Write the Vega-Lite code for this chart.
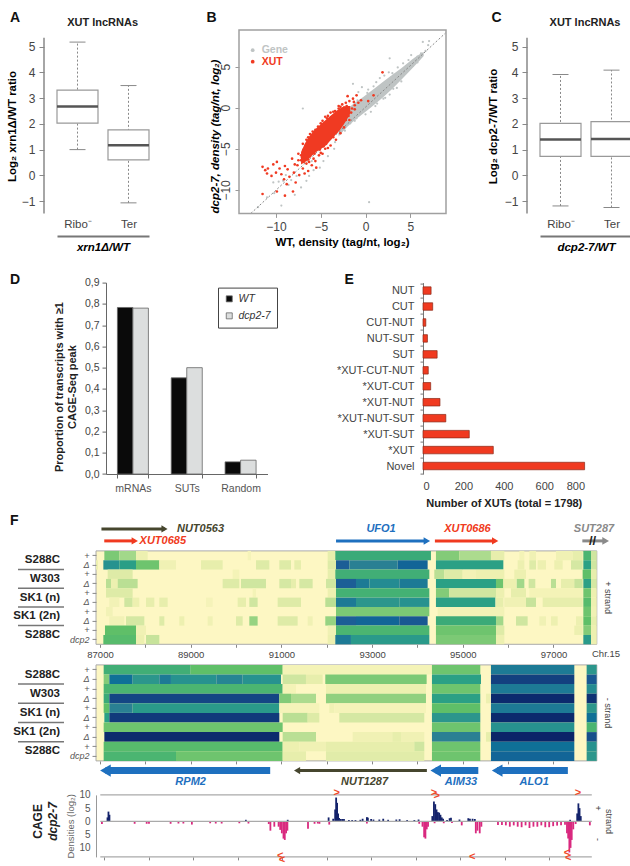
{
"$schema":"https://vega.github.io/schema/vega-lite/v6.json",
"padding":{"left":3,"top":10,"right":0,"bottom":0},
"config":{"font":"Liberation Sans","view":{"stroke":null},"axis":{"grid":false,"labelOverlap":false,"labelFont":"Liberation Sans","titleFont":"Liberation Sans"}},
"datasets":{
"boxA":[{"c":"Ribo⁻","lo":1.0,"q1":2.03,"med":2.68,"q3":3.31,"hi":5.18},{"c":"Ter","lo":-1.07,"q1":0.6,"med":1.17,"q3":1.77,"hi":3.49}],
"boxC":[{"c":"Ribo⁻","lo":-1.19,"q1":0.74,"med":1.39,"q3":2.02,"hi":3.92},{"c":"Ter","lo":-1.25,"q1":0.74,"med":1.41,"q3":2.09,"hi":4.09}],
"grayPts":[{"x":-10.3,"y":-9.1},{"x":-9.7,"y":-9},{"x":-9.4,"y":-11.9},{"x":-9.2,"y":-8.9},{"x":-8.6,"y":-9.4},{"x":-8.3,"y":-8.8},{"x":-7.7,"y":-8.3},{"x":-7.9,"y":-10.6},{"x":-7.2,"y":-9.7},{"x":-6.6,"y":-8.9},{"x":-6.3,"y":-8.3},{"x":-5.8,"y":-7.6},{"x":-5.1,"y":-7.3},{"x":-4.7,"y":-6.5},{"x":-4.2,"y":-5.9},{"x":-3.5,"y":-5},{"x":-7,"y":-0.1},{"x":-3.4,"y":-4.2},{"x":-2.9,"y":-3.2},{"x":-2.3,"y":-2.8},{"x":-1.7,"y":-1.9},{"x":-1.2,"y":-1.6},{"x":-0.7,"y":-0.9},{"x":0,"y":-0.8},{"x":0.6,"y":-0.5},{"x":1.3,"y":0.5},{"x":2,"y":1.1},{"x":2.7,"y":1.6},{"x":3.5,"y":2.4},{"x":4,"y":3.2},{"x":0.4,"y":-11.5},{"x":-1.4,"y":2.9},{"x":-0.8,"y":1.9},{"x":-0.4,"y":2.5},{"x":0.3,"y":2.2},{"x":0.9,"y":2.6},{"x":1.6,"y":3.6},{"x":2.1,"y":3.9},{"x":2.6,"y":4.3},{"x":3,"y":4.2},{"x":3.6,"y":4.9},{"x":4.2,"y":5.4},{"x":4.8,"y":5.8},{"x":5.1,"y":6.4},{"x":2.7,"y":6},{"x":6.2,"y":6.6},{"x":6.7,"y":6.9},{"x":7,"y":7.6},{"x":6.4,"y":8},{"x":7.1,"y":8.1},{"x":5.8,"y":6.2},{"x":4.5,"y":4.6},{"x":5.3,"y":5.1},{"x":5.8,"y":5.5},{"x":3.1,"y":3.1},{"x":2.6,"y":2.5},{"x":-10.2,"y":-10.4},{"x":-11,"y":-10.9},{"x":-12,"y":-12.1},{"x":-8.9,"y":-8.2},{"x":-6,"y":-6.5},{"x":1.2,"y":3.1},{"x":0.2,"y":1.8},{"x":-0.9,"y":0.9},{"x":2.9,"y":3.7},{"x":3.8,"y":4.4},{"x":4.8,"y":5.2},{"x":1.1,"y":0.2},{"x":2.2,"y":1.2},{"x":3.1,"y":2.3},{"x":-1,"y":-1.3}],
"grayBand":[{"x":-3,"lo":-3.5,"hi":-1.6},{"x":-2,"lo":-2.3,"hi":-0.2},{"x":0,"lo":-0.5,"hi":1.5},{"x":2,"lo":1.3,"hi":3.2},{"x":4,"lo":3.4,"hi":4.8},{"x":5.5,"lo":5.1,"hi":6.1},{"x":6.5,"lo":6.3,"hi":6.8}],
"redCore":[{"x":-7.2,"lo":-6.9,"hi":-5.4},{"x":-6.58,"lo":-6.5,"hi":-4},{"x":-5.84,"lo":-5.7,"hi":-2.9},{"x":-5.09,"lo":-5.1,"hi":-2.1},{"x":-4.35,"lo":-4.5,"hi":-1.4},{"x":-3.6,"lo":-3.6,"hi":-0.7},{"x":-2.86,"lo":-2.7,"hi":-0.1},{"x":-2.11,"lo":-1.5,"hi":0.2},{"x":-1.7,"lo":-0.7,"hi":0.2}],
"redPts":[{"x":-11.5,"y":-7.2},{"x":-11.2,"y":-7.6},{"x":-10.9,"y":-7.4},{"x":-11,"y":-8},{"x":-10.5,"y":-8.3},{"x":-10.3,"y":-6.9},{"x":-9.9,"y":-6.6},{"x":-9.6,"y":-7.4},{"x":-10,"y":-7.9},{"x":-9.4,"y":-8.1},{"x":-9,"y":-7.1},{"x":-8.7,"y":-7.5},{"x":-9.1,"y":-8.7},{"x":-8.5,"y":-8.4},{"x":-8.8,"y":-9.3},{"x":-8,"y":-7.9},{"x":-7.6,"y":-7},{"x":-7.4,"y":-8.2},{"x":-7.2,"y":-6.4},{"x":-7,"y":-7.4},{"x":-6.8,"y":-8},{"x":-8.2,"y":-6.2},{"x":-6.6,"y":-6.8},{"x":-6.4,"y":-7.7},{"x":-11.5,"y":-10.5},{"x":-9.9,"y":-10.2},{"x":-9,"y":-10.7},{"x":-8.1,"y":-10.2},{"x":-7.8,"y":-9.1},{"x":-6.9,"y":-6.6},{"x":-6.3,"y":-6.6},{"x":-7.5,"y":-5.6},{"x":-6.9,"y":-5.1},{"x":-7,"y":-4.4},{"x":-6.2,"y":-3.2},{"x":-6.6,"y":-3.9},{"x":-6,"y":-7},{"x":-5.6,"y":-6.5},{"x":-5.5,"y":-7.3},{"x":-5.2,"y":-5.8},{"x":-4.8,"y":-5.6},{"x":-4.5,"y":-5},{"x":-5.9,"y":-2.9},{"x":-5.3,"y":-2.3},{"x":-4.8,"y":-1.6},{"x":-4.2,"y":-1},{"x":-3.9,"y":-0.6},{"x":-3.4,"y":-0.4},{"x":-3,"y":0.2},{"x":-2.6,"y":0.4},{"x":-2.2,"y":0.6},{"x":-1.8,"y":0.8},{"x":-1.4,"y":1.1},{"x":-2,"y":1.4},{"x":-1,"y":1.5},{"x":-0.8,"y":0.6},{"x":-1.2,"y":-0.2},{"x":-1.6,"y":-0.6},{"x":-1.9,"y":-1},{"x":-2.2,"y":-1.5},{"x":-2.6,"y":-1.9},{"x":-3,"y":-2.6},{"x":-3.3,"y":-3},{"x":-3.6,"y":-3.6},{"x":-4,"y":-3.8},{"x":-4.4,"y":-4.4},{"x":-4.7,"y":-4.7},{"x":-5.1,"y":-5.1},{"x":-5.7,"y":-5.6},{"x":-6.2,"y":-5.9},{"x":-6.9,"y":-5.9},{"x":-6.7,"y":-6.3},{"x":-1.5,"y":-0.1},{"x":-0.5,"y":0.9},{"x":0.3,"y":0.8},{"x":0.9,"y":1.5},{"x":1.9,"y":4.3},{"x":-1.2,"y":0.3},{"x":-1.9,"y":-0.3},{"x":-2.4,"y":0},{"x":-3,"y":-0.1},{"x":-3.6,"y":-0.5},{"x":-4.3,"y":-1.3},{"x":-4.9,"y":-2.2},{"x":-5.5,"y":-3.1},{"x":-6.1,"y":-4},{"x":-6.9,"y":-5.2},{"x":-7.2,"y":-5.8},{"x":-5,"y":-1.9},{"x":-5.6,"y":-2.7},{"x":-4.5,"y":-1.1},{"x":-6.4,"y":-3.6},{"x":-6.7,"y":-4.6},{"x":-3.9,"y":-4.6},{"x":-4.2,"y":-4.9},{"x":-3.3,"y":-3.9},{"x":-2.8,"y":-3.1},{"x":-2.4,"y":-2.4},{"x":-1.8,"y":-1.5},{"x":-5.8,"y":-6.2},{"x":-5,"y":-5.5},{"x":-6.4,"y":-6.3},{"x":-7.5,"y":-6.4},{"x":-7.9,"y":-6.9},{"x":-7.1,"y":-6.1},{"x":-2.1,"y":0.2},{"x":-2.8,"y":0.1},{"x":-1.3,"y":0.7}],
"h1":[
{"t":"a+","a":87096,"b":87426,"v":0.36},{"t":"a+","a":87426,"b":87794,"v":0.3},{"t":"a+","a":87794,"b":88051,"v":0.1},{"t":"a+","a":90256,"b":90330,"v":0.05},{"t":"a+","a":92020,"b":92189,"v":0.12},{"t":"a+","a":92189,"b":94298,"v":0.5},{"t":"a+","a":94408,"b":94923,"v":0.35},{"t":"a+","a":94923,"b":95621,"v":0.28},{"t":"a+","a":95621,"b":95916,"v":0.12},{"t":"a+","a":96247,"b":96357,"v":0.06},{"t":"a+","a":96467,"b":96614,"v":0.08},{"t":"a+","a":97055,"b":97423,"v":0.08},{"t":"a+","a":97423,"b":97643,"v":0.12},{"t":"a+","a":97658,"b":97827,"v":0.45},{"t":"a+","a":97827,"b":97952,"v":0.2},
{"t":"aΔ","a":86912,"b":86956,"v":0.1},{"t":"aΔ","a":87074,"b":87426,"v":0.62},{"t":"aΔ","a":87426,"b":87794,"v":0.56},{"t":"aΔ","a":87794,"b":88308,"v":0.38},{"t":"aΔ","a":88308,"b":88676,"v":0.08},{"t":"aΔ","a":89227,"b":89705,"v":0.12},{"t":"aΔ","a":90440,"b":90734,"v":0.15},{"t":"aΔ","a":90954,"b":91212,"v":0.15},{"t":"aΔ","a":91285,"b":91432,"v":0.12},{"t":"aΔ","a":92020,"b":92204,"v":0.15},{"t":"aΔ","a":92204,"b":92498,"v":0.8},{"t":"aΔ","a":92498,"b":93563,"v":0.7},{"t":"aΔ","a":93563,"b":94225,"v":0.78},{"t":"aΔ","a":94408,"b":95894,"v":0.55},{"t":"aΔ","a":96210,"b":96357,"v":0.1},{"t":"aΔ","a":96467,"b":96614,"v":0.15},{"t":"aΔ","a":96651,"b":96835,"v":0.1},{"t":"aΔ","a":97018,"b":97202,"v":0.1},{"t":"aΔ","a":97386,"b":97643,"v":0.18},{"t":"aΔ","a":97658,"b":97827,"v":0.55},{"t":"aΔ","a":97827,"b":97952,"v":0.2},
{"t":"b+","a":87169,"b":87720,"v":0.15},{"t":"b+","a":89925,"b":90072,"v":0.06},{"t":"b+","a":92020,"b":92189,"v":0.12},{"t":"b+","a":92189,"b":94262,"v":0.48},{"t":"b+","a":94372,"b":94592,"v":0.25},{"t":"b+","a":94592,"b":94997,"v":0.15},{"t":"b+","a":94997,"b":95291,"v":0.07},{"t":"b+","a":95291,"b":95916,"v":0.1},{"t":"b+","a":96136,"b":96394,"v":0.1},{"t":"b+","a":97643,"b":97827,"v":0.4},{"t":"b+","a":97827,"b":97952,"v":0.12},
{"t":"bΔ","a":87132,"b":87243,"v":0.25},{"t":"bΔ","a":87243,"b":87390,"v":0.1},{"t":"bΔ","a":87390,"b":87830,"v":0.25},{"t":"bΔ","a":89705,"b":90072,"v":0.15},{"t":"bΔ","a":90109,"b":90660,"v":0.2},{"t":"bΔ","a":90954,"b":91212,"v":0.18},{"t":"bΔ","a":91212,"b":91322,"v":0.12},{"t":"bΔ","a":91395,"b":91689,"v":0.18},{"t":"bΔ","a":91983,"b":92204,"v":0.2},{"t":"bΔ","a":92204,"b":92645,"v":0.8},{"t":"bΔ","a":92645,"b":92939,"v":0.72},{"t":"bΔ","a":92939,"b":93600,"v":0.65},{"t":"bΔ","a":93600,"b":94225,"v":0.72},{"t":"bΔ","a":94408,"b":95732,"v":0.55},{"t":"bΔ","a":95732,"b":95894,"v":0.38},{"t":"bΔ","a":95894,"b":96173,"v":0.1},{"t":"bΔ","a":96188,"b":96357,"v":0.3},{"t":"bΔ","a":96452,"b":96599,"v":0.2},{"t":"bΔ","a":96945,"b":97055,"v":0.25},{"t":"bΔ","a":97165,"b":97459,"v":0.12},{"t":"bΔ","a":97459,"b":97643,"v":0.22},{"t":"bΔ","a":97658,"b":97827,"v":0.55},{"t":"bΔ","a":97827,"b":97952,"v":0.18},
{"t":"c+","a":87132,"b":87720,"v":0.15},{"t":"c+","a":90366,"b":90440,"v":0.06},{"t":"c+","a":92020,"b":92204,"v":0.1},{"t":"c+","a":92204,"b":94262,"v":0.47},{"t":"c+","a":94408,"b":94703,"v":0.35},{"t":"c+","a":94703,"b":95732,"v":0.2},{"t":"c+","a":95732,"b":95916,"v":0.1},{"t":"c+","a":96063,"b":96394,"v":0.12},{"t":"c+","a":96467,"b":97643,"v":0.06},{"t":"c+","a":97658,"b":97827,"v":0.38},{"t":"c+","a":97827,"b":97952,"v":0.1},
{"t":"cΔ","a":87206,"b":87426,"v":0.07},{"t":"cΔ","a":87537,"b":87720,"v":0.2},{"t":"cΔ","a":87720,"b":87867,"v":0.1},{"t":"cΔ","a":88014,"b":88198,"v":0.12},{"t":"cΔ","a":88308,"b":88492,"v":0.12},{"t":"cΔ","a":89337,"b":89484,"v":0.05},{"t":"cΔ","a":90036,"b":90219,"v":0.12},{"t":"cΔ","a":90293,"b":90476,"v":0.2},{"t":"cΔ","a":90918,"b":91432,"v":0.15},{"t":"cΔ","a":91968,"b":92204,"v":0.25},{"t":"cΔ","a":92204,"b":92645,"v":0.72},{"t":"cΔ","a":92645,"b":93600,"v":0.6},{"t":"cΔ","a":93600,"b":94262,"v":0.62},{"t":"cΔ","a":94408,"b":95717,"v":0.55},{"t":"cΔ","a":95732,"b":95894,"v":0.12},{"t":"cΔ","a":95916,"b":96394,"v":0.08},{"t":"cΔ","a":96394,"b":96614,"v":0.22},{"t":"cΔ","a":96761,"b":97643,"v":0.12},{"t":"cΔ","a":97658,"b":97827,"v":0.42},{"t":"cΔ","a":97827,"b":97952,"v":0.1},
{"t":"d+","a":87132,"b":87279,"v":0.07},{"t":"d+","a":92204,"b":94262,"v":0.36},{"t":"d+","a":94445,"b":95916,"v":0.07},{"t":"d+","a":97658,"b":97827,"v":0.38},{"t":"d+","a":97827,"b":97952,"v":0.08},
{"t":"dΔ","a":87206,"b":87537,"v":0.07},{"t":"dΔ","a":87573,"b":87978,"v":0.18},{"t":"dΔ","a":88308,"b":88419,"v":0.15},{"t":"dΔ","a":88749,"b":88860,"v":0.1},{"t":"dΔ","a":89374,"b":89484,"v":0.08},{"t":"dΔ","a":89999,"b":90146,"v":0.15},{"t":"dΔ","a":90293,"b":90476,"v":0.32},{"t":"dΔ","a":90918,"b":91358,"v":0.15},{"t":"dΔ","a":91579,"b":91689,"v":0.08},{"t":"dΔ","a":91968,"b":92204,"v":0.32},{"t":"dΔ","a":92204,"b":92645,"v":0.8},{"t":"dΔ","a":92645,"b":93600,"v":0.78},{"t":"dΔ","a":93600,"b":94225,"v":0.82},{"t":"dΔ","a":94408,"b":95732,"v":0.5},{"t":"dΔ","a":95732,"b":95894,"v":0.3},{"t":"dΔ","a":96173,"b":96430,"v":0.2},{"t":"dΔ","a":96688,"b":96835,"v":0.08},{"t":"dΔ","a":96945,"b":97092,"v":0.1},{"t":"dΔ","a":97496,"b":97643,"v":0.1},{"t":"dΔ","a":97658,"b":97827,"v":0.4},{"t":"dΔ","a":97827,"b":97952,"v":0.12},
{"t":"e+","a":87110,"b":87794,"v":0.4},{"t":"e+","a":87794,"b":88014,"v":0.08},{"t":"e+","a":92020,"b":92204,"v":0.08},{"t":"e+","a":92204,"b":94262,"v":0.45},{"t":"e+","a":94408,"b":95732,"v":0.38},{"t":"e+","a":95732,"b":95916,"v":0.15},{"t":"e+","a":97459,"b":97643,"v":0.1},{"t":"e+","a":97658,"b":97827,"v":0.35},{"t":"e+","a":97827,"b":97952,"v":0.1},
{"t":"edcp2","a":87074,"b":87794,"v":0.42},{"t":"edcp2","a":87794,"b":87978,"v":0.1},{"t":"edcp2","a":88014,"b":88308,"v":0.22},{"t":"edcp2","a":92020,"b":92189,"v":0.1},{"t":"edcp2","a":92189,"b":92534,"v":0.72},{"t":"edcp2","a":92534,"b":94262,"v":0.58},{"t":"edcp2","a":94408,"b":95732,"v":0.36},{"t":"edcp2","a":95732,"b":95916,"v":0.1},{"t":"edcp2","a":97658,"b":97827,"v":0.58},{"t":"edcp2","a":97827,"b":97952,"v":0.1}],
"h2":[
{"t":"a+","a":87081,"b":89000,"v":0.48},{"t":"a+","a":89000,"b":91028,"v":0.4},{"t":"a+","a":91028,"b":94320,"v":0.06},{"t":"a+","a":94320,"b":95386,"v":0.38},{"t":"a+","a":95621,"b":97459,"v":0.72},{"t":"a+","a":97731,"b":97952,"v":0.6},
{"t":"aΔ","a":87081,"b":87206,"v":0.35},{"t":"aΔ","a":87206,"b":87720,"v":0.75},{"t":"aΔ","a":87720,"b":88308,"v":0.6},{"t":"aΔ","a":88308,"b":88565,"v":0.72},{"t":"aΔ","a":88565,"b":89565,"v":0.62},{"t":"aΔ","a":89565,"b":90146,"v":0.68},{"t":"aΔ","a":90146,"b":90991,"v":0.62},{"t":"aΔ","a":91028,"b":91542,"v":0.2},{"t":"aΔ","a":91542,"b":91910,"v":0.12},{"t":"aΔ","a":91968,"b":94203,"v":0.36},{"t":"aΔ","a":94320,"b":95401,"v":0.55},{"t":"aΔ","a":95621,"b":97459,"v":0.9},{"t":"aΔ","a":97731,"b":97952,"v":0.82},
{"t":"b+","a":87081,"b":91028,"v":0.45},{"t":"b+","a":91028,"b":91322,"v":0.06},{"t":"b+","a":91983,"b":94188,"v":0.1},{"t":"b+","a":94320,"b":95386,"v":0.38},{"t":"b+","a":95621,"b":97459,"v":0.72},{"t":"b+","a":97731,"b":97952,"v":0.65},
{"t":"bΔ","a":87081,"b":87206,"v":0.5},{"t":"bΔ","a":87206,"b":90954,"v":0.88},{"t":"bΔ","a":90954,"b":91212,"v":0.35},{"t":"bΔ","a":91212,"b":91763,"v":0.28},{"t":"bΔ","a":91983,"b":94188,"v":0.33},{"t":"bΔ","a":94320,"b":95386,"v":0.55},{"t":"bΔ","a":95511,"b":95599,"v":0.1},{"t":"bΔ","a":95621,"b":97459,"v":0.98},{"t":"bΔ","a":97731,"b":97952,"v":0.95},
{"t":"c+","a":87081,"b":87206,"v":0.4},{"t":"c+","a":87206,"b":87720,"v":0.7},{"t":"c+","a":87720,"b":90954,"v":0.58},{"t":"c+","a":90954,"b":91836,"v":0.05},{"t":"c+","a":92056,"b":92167,"v":0.08},{"t":"c+","a":92167,"b":94188,"v":0.05},{"t":"c+","a":94320,"b":95386,"v":0.4},{"t":"c+","a":95621,"b":97459,"v":0.72},{"t":"c+","a":97731,"b":97952,"v":0.6},
{"t":"cΔ","a":87096,"b":87206,"v":0.55},{"t":"cΔ","a":87206,"b":90954,"v":0.92},{"t":"cΔ","a":91028,"b":91579,"v":0.25},{"t":"cΔ","a":91579,"b":91836,"v":0.15},{"t":"cΔ","a":92277,"b":94151,"v":0.18},{"t":"cΔ","a":94320,"b":95386,"v":0.6},{"t":"cΔ","a":95621,"b":97459,"v":0.98},{"t":"cΔ","a":97731,"b":97952,"v":0.75},
{"t":"d+","a":87081,"b":91028,"v":0.38},{"t":"d+","a":94320,"b":95386,"v":0.38},{"t":"d+","a":95621,"b":97459,"v":0.62},{"t":"d+","a":97731,"b":97952,"v":0.45},
{"t":"dΔ","a":87096,"b":90954,"v":0.98},{"t":"dΔ","a":91028,"b":91763,"v":0.25},{"t":"dΔ","a":92571,"b":94151,"v":0.08},{"t":"dΔ","a":93453,"b":93637,"v":0.12},{"t":"dΔ","a":94320,"b":95386,"v":0.7},{"t":"dΔ","a":95511,"b":95621,"v":0.12},{"t":"dΔ","a":95621,"b":97459,"v":1},{"t":"dΔ","a":97731,"b":97952,"v":0.85},
{"t":"e+","a":87081,"b":91028,"v":0.42},{"t":"e+","a":91028,"b":91395,"v":0.1},{"t":"e+","a":91395,"b":91983,"v":0.08},{"t":"e+","a":91983,"b":93931,"v":0.12},{"t":"e+","a":93931,"b":94151,"v":0.2},{"t":"e+","a":94320,"b":95386,"v":0.38},{"t":"e+","a":95621,"b":97459,"v":0.75},{"t":"e+","a":97731,"b":97952,"v":0.62},
{"t":"edcp2","a":87081,"b":88676,"v":0.45},{"t":"edcp2","a":88676,"b":91028,"v":0.38},{"t":"edcp2","a":91028,"b":91542,"v":0.12},{"t":"edcp2","a":91983,"b":94151,"v":0.14},{"t":"edcp2","a":94320,"b":95386,"v":0.38},{"t":"edcp2","a":95621,"b":97459,"v":0.78},{"t":"edcp2","a":97731,"b":97952,"v":0.6}],
"strains":[{"t":"a+","s":"S288C"},{"t":"b+","s":"W303"},{"t":"c+","s":"SK1 (n)"},{"t":"d+","s":"SK1 (2n)"},{"t":"e+","s":"S288C"}],
"seps":[{"t":"aΔ"},{"t":"bΔ"},{"t":"cΔ"},{"t":"dΔ"}],
"genesTop":[{"n":"NUT0563","k":"NUT","s":87032,"e":88423,"lane":"1"},{"n":"XUT0685","k":"XUT","s":87094,"e":87767,"lane":"2"},{"n":"UFO1","k":"gene","s":92205,"e":94208,"lane":"2"},{"n":"XUT0686","k":"XUT","s":94385,"e":95714,"lane":"2"},{"n":"SUT287","k":"SUT","s":97636,"e":98150,"lane":"2"}],
"labelsTop":[{"n":"NUT0563","k":"NUT","p":88697,"lane":"1","al":"s"},{"n":"XUT0685","k":"XUT","p":87873,"lane":"2","al":"s"},{"n":"UFO1","k":"gene","p":93198,"lane":"1","al":"c"},{"n":"XUT0686","k":"XUT","p":95102,"lane":"1","al":"c"},{"n":"SUT287","k":"SUT","p":97893,"lane":"1","al":"c"}],
"genesBot":[{"n":"RPM2","k":"gene","s":87120,"e":90753},{"n":"NUT1287","k":"NUT","s":91346,"e":94208},{"n":"AIM33","k":"gene","s":94403,"e":95342},{"n":"ALO1","k":"gene","s":95758,"e":97317}],
"labelsBot":[{"n":"RPM2","k":"gene","p":88999},{"n":"NUT1287","k":"NUT","p":92834},{"n":"AIM33","k":"gene","p":94961},{"n":"ALO1","k":"gene","p":96573}],
"cage":[{"x":87074,"v":1.5},{"x":87096,"v":3.7},{"x":87118,"v":2.5},{"x":90183,"v":0.6},{"x":91123,"v":0.6},{"x":92042,"v":1.5},{"x":92145,"v":1},{"x":92189,"v":4.5},{"x":92211,"v":9},{"x":92233,"v":7},{"x":92255,"v":3},{"x":92277,"v":1.3},{"x":92314,"v":0.9},{"x":92350,"v":0.9},{"x":92387,"v":0.9},{"x":92498,"v":0.5},{"x":92571,"v":0.5},{"x":92645,"v":0.5},{"x":92755,"v":0.6},{"x":92806,"v":1},{"x":92902,"v":1.6},{"x":92924,"v":1.4},{"x":92997,"v":0.9},{"x":93049,"v":0.7},{"x":93181,"v":0.7},{"x":93269,"v":1},{"x":93379,"v":0.6},{"x":93563,"v":0.7},{"x":93637,"v":0.8},{"x":93806,"v":0.5},{"x":93968,"v":0.5},{"x":94063,"v":0.7},{"x":94372,"v":2},{"x":94408,"v":7.5},{"x":94438,"v":6.5},{"x":94467,"v":4.5},{"x":94497,"v":3.5},{"x":94526,"v":3.3},{"x":94555,"v":2.5},{"x":94585,"v":1.5},{"x":94614,"v":1},{"x":94703,"v":0.5},{"x":94761,"v":1.2},{"x":94791,"v":1.4},{"x":94982,"v":0.7},{"x":95180,"v":1.2},{"x":95217,"v":1},{"x":95276,"v":1},{"x":95327,"v":0.9},{"x":97468,"v":0.6},{"x":97627,"v":3},{"x":97654,"v":6.8},{"x":97680,"v":5},{"x":97707,"v":2},{"x":86949,"v":-1},{"x":87684,"v":-0.9},{"x":87955,"v":-0.9},{"x":88006,"v":-0.9},{"x":88492,"v":-0.9},{"x":88668,"v":-0.8},{"x":88779,"v":-0.8},{"x":88970,"v":-1.2},{"x":89381,"v":-0.7},{"x":89506,"v":-0.8},{"x":89639,"v":-0.8},{"x":90036,"v":-0.7},{"x":90241,"v":-0.8},{"x":90697,"v":-1},{"x":90734,"v":-3.5},{"x":90822,"v":-2},{"x":90918,"v":-2},{"x":90954,"v":-3.2},{"x":90991,"v":-4.5},{"x":91028,"v":-6.5},{"x":91057,"v":-7},{"x":91087,"v":-4.5},{"x":91116,"v":-3.5},{"x":91579,"v":-2.8},{"x":91726,"v":-0.9},{"x":91799,"v":-0.8},{"x":91836,"v":-0.9},{"x":92056,"v":-1.2},{"x":92902,"v":-0.8},{"x":94078,"v":-0.9},{"x":94151,"v":-2},{"x":94188,"v":-6},{"x":94217,"v":-6.5},{"x":94247,"v":-3},{"x":94276,"v":-2},{"x":94423,"v":-0.7},{"x":94629,"v":-0.7},{"x":94813,"v":-0.6},{"x":95033,"v":-1.5},{"x":95349,"v":-4.5},{"x":95386,"v":-3.5},{"x":95437,"v":-4.5},{"x":95474,"v":-2},{"x":95847,"v":-1.4},{"x":95936,"v":-1.4},{"x":96024,"v":-1.5},{"x":96113,"v":-2},{"x":96201,"v":-1.5},{"x":96290,"v":-2},{"x":96378,"v":-2.2},{"x":96467,"v":-1.5},{"x":96555,"v":-2.5},{"x":96644,"v":-2},{"x":96732,"v":-2},{"x":96821,"v":-1.5},{"x":96910,"v":-2.2},{"x":96998,"v":-2.2},{"x":97087,"v":-1.8},{"x":97176,"v":-1.6},{"x":97264,"v":-1.5},{"x":97353,"v":-1.3},{"x":97397,"v":-4.5},{"x":97424,"v":-6.5},{"x":97451,"v":-11.7},{"x":97478,"v":-10},{"x":97504,"v":-7},{"x":97539,"v":-3},{"x":97592,"v":-1},{"x":97911,"v":-1.5}],
"chevUp":[{"x":92223,"y":10.7},{"x":94411,"y":10.7},{"x":94473,"y":9.5},{"x":97645,"y":10.7}],
"chevDown":[{"x":90956,"y":-13.1},{"x":90992,"y":-14.6},{"x":95271,"y":-13.4},{"x":97397,"y":-11.8},{"x":97424,"y":-14}],
"bg":[{"a":86912,"b":97955}]
},
"resolve":{"scale":{"color":"independent","size":"independent","strokeWidth":"independent"}},
"vconcat":[
{"resolve":{"scale":{"color":"independent","size":"independent","strokeWidth":"independent"}},"hconcat":[
{"width":92,"height":183.4,"layer":[
{"data":{"name":"boxA"},"mark":{"type":"rule","color":"#888","strokeDash":[2,2]},"encoding":{"x":{"field":"c","type":"nominal","sort":null,"scale":{"type":"point","padding":0.402},"axis":{"orient":"bottom","offset":22.7,"title":"xrn1Δ/WT","titleFontSize":11.5,"titleFontWeight":"bold","titleFontStyle":"italic","titleBaseline":"middle","titleY":11.5,"labelAngle":0,"labelFontSize":11.5,"labelColor":"#444","labelPadding":-18,"tickSize":0,"ticks":false,"domainColor":"#777","domainWidth":2}},"y":{"field":"lo","type":"quantitative","scale":{"domain":[-1.48,5.65],"nice":false},"axis":{"offset":13,"domain":false,"values":[-1,0,1,2,3,4,5],"tickCount":7,"format":"d","title":"Log₂ xrn1Δ/WT ratio","titleFontSize":11.5,"titleFontWeight":"bold","titleX":-27,"titleY":96,"labelFontSize":12,"labelColor":"#444","tickColor":"#888","tickSize":5,"labelPadding":4}},"y2":{"field":"hi"}}},
{"data":{"name":"boxA"},"mark":{"type":"bar","size":41,"fill":"white","stroke":"#999","strokeWidth":1.2},"encoding":{"x":{"field":"c","type":"nominal","sort":null},"y":{"field":"q1","type":"quantitative"},"y2":{"field":"q3"}}},
{"data":{"name":"boxA"},"mark":{"type":"tick","size":41,"thickness":2.5,"color":"#555","opacity":1},"encoding":{"x":{"field":"c","type":"nominal","sort":null},"y":{"field":"med","type":"quantitative"}}},
{"data":{"name":"boxA"},"mark":{"type":"tick","size":16,"thickness":1,"color":"#888","opacity":1},"encoding":{"x":{"field":"c","type":"nominal","sort":null},"y":{"field":"hi","type":"quantitative"}}},
{"data":{"name":"boxA"},"mark":{"type":"tick","size":16,"thickness":1,"color":"#888","opacity":1},"encoding":{"x":{"field":"c","type":"nominal","sort":null},"y":{"field":"lo","type":"quantitative"}}},
{"data":{"values":[{}]},"mark":{"type":"rule","color":"#888","strokeWidth":1.5},"encoding":{"x":{"value":-13},"y":{"datum":5.35,"type":"quantitative"},"y2":{"datum":-1.48}}},
{"data":{"values":[{"t":"XUT lncRNAs"}]},"mark":{"type":"text","fontWeight":"bold","fontSize":11,"color":"#222"},"encoding":{"text":{"field":"t"},"x":{"value":45.6},"y":{"datum":5.93,"type":"quantitative"}}},
{"data":{"values":[{"t":"A"}]},"mark":{"type":"text","fontWeight":"bold","fontSize":14,"color":"#111","align":"left"},"encoding":{"text":{"field":"t"},"x":{"value":-47},"y":{"datum":6.13,"type":"quantitative"}}},
{"data":{"values":[{}]},"mark":{"type":"point","opacity":0,"size":1},"encoding":{"x":{"value":-53},"y":{"datum":0,"type":"quantitative"}}}
]},
{"width":89.4,"height":10,"data":{"values":[{}]},"mark":{"type":"point","opacity":0},"encoding":{}},
{"width":207,"height":183.4,
"layer":[
{"data":{"name":"grayPts"},"mark":{"type":"point","filled":true,"size":5,"color":"#BFC4C4","opacity":1},"encoding":{"x":{"field":"x","type":"quantitative","scale":{"domain":[-14.13,8.99],"nice":false},"axis":{"values":[-10,-5,0,5],"title":"WT, density (tag/nt, log₂)","titleFontSize":11.5,"titleFontWeight":"bold","titleX":103,"titleY":29,"titleBaseline":"middle","labelFontSize":12,"labelColor":"#444","domain":false,"tickColor":"#999","tickSize":4,"labelPadding":4}},"y":{"field":"y","type":"quantitative","scale":{"domain":[-12.86,9.45],"nice":false},"axis":{"values":[-10,-5,0,5],"title":"dcp2-7, density (tag/nt, log₂)","titleFontSize":11.5,"titleFontWeight":"bold","titleFontStyle":"italic","titleX":-19,"titleY":106,"labelFontSize":12,"labelColor":"#444","labelAngle":-90,"labelBaseline":"bottom","labelAlign":"center","domain":false,"tickColor":"#999","tickSize":4,"labelPadding":3}}}},
{"data":{"name":"grayBand"},"mark":{"type":"area","color":"#BFC4C4","interpolate":"monotone"},"encoding":{"x":{"field":"x","type":"quantitative"},"y":{"field":"lo","type":"quantitative"},"y2":{"field":"hi"}}},
{"data":{"values":[{"x":-12.8,"y":-12.86},{"x":8.95,"y":9.1}]},"mark":{"type":"line","color":"#888","strokeDash":[2,2],"strokeWidth":1},"encoding":{"x":{"field":"x","type":"quantitative"},"y":{"field":"y","type":"quantitative"}}},
{"data":{"name":"redPts"},"mark":{"type":"point","filled":true,"size":7,"color":"#F03A22","opacity":1},"encoding":{"x":{"field":"x","type":"quantitative"},"y":{"field":"y","type":"quantitative"}}},
{"data":{"name":"redCore"},"mark":{"type":"area","color":"#F03A22","interpolate":"monotone"},"encoding":{"x":{"field":"x","type":"quantitative"},"y":{"field":"lo","type":"quantitative"},"y2":{"field":"hi"}}},
{"data":{"values":[{"x":-12.6,"y":7,"k":"Gene"},{"x":-12.6,"y":5.6,"k":"XUT"}]},"mark":{"type":"point","filled":true,"size":14,"opacity":1},"encoding":{"x":{"field":"x","type":"quantitative"},"y":{"field":"y","type":"quantitative"},"color":{"field":"k","type":"nominal","scale":{"domain":["Gene","XUT"],"range":["#BFC4C4","#F03A22"]},"legend":null}}},
{"data":{"values":[{"x":-11.6,"y":7,"k":"Gene"},{"x":-11.6,"y":5.6,"k":"XUT"}]},"mark":{"type":"text","align":"left","fontWeight":"bold","fontSize":10.5},"encoding":{"text":{"field":"k"},"x":{"field":"x","type":"quantitative"},"y":{"field":"y","type":"quantitative"},"color":{"field":"k","type":"nominal","legend":null}}},
{"data":{"values":[{"x":-14.13,"x2":8.99,"y":-12.86,"y2":9.45}]},"mark":{"type":"rect","fill":null,"stroke":"#A0A0A0","strokeWidth":1.5},"encoding":{"x":{"field":"x","type":"quantitative"},"x2":{"field":"x2"},"y":{"field":"y","type":"quantitative"},"y2":{"field":"y2"}}},
{"data":{"values":[{"t":"B","x":-17.75,"y":10.95}]},"mark":{"type":"text","fontWeight":"bold","fontSize":14,"color":"#111","align":"left"},"encoding":{"text":{"field":"t"},"x":{"field":"x","type":"quantitative"},"y":{"field":"y","type":"quantitative"}}}
]},
{"width":94,"height":10,"data":{"values":[{}]},"mark":{"type":"point","opacity":0},"encoding":{}},
{"width":92,"height":183.4,"layer":[
{"data":{"name":"boxC"},"mark":{"type":"rule","color":"#888","strokeDash":[2,2]},"encoding":{"x":{"field":"c","type":"nominal","sort":null,"scale":{"type":"point","padding":0.402},"axis":{"orient":"bottom","offset":22.7,"title":"dcp2-7/WT","titleFontSize":11.5,"titleFontWeight":"bold","titleFontStyle":"italic","titleBaseline":"middle","titleY":11.5,"labelAngle":0,"labelFontSize":11.5,"labelColor":"#444","labelPadding":-18,"tickSize":0,"ticks":false,"domainColor":"#777","domainWidth":2}},"y":{"field":"lo","type":"quantitative","scale":{"domain":[-1.48,5.65],"nice":false},"axis":{"offset":13,"domain":false,"values":[-1,0,1,2,3,4,5],"tickCount":7,"format":"d","title":"Log₂ dcp2-7/WT ratio","titleFontSize":11.5,"titleFontWeight":"bold","titleX":-29,"titleY":96,"labelFontSize":12,"labelColor":"#444","tickColor":"#888","tickSize":5,"labelPadding":4}},"y2":{"field":"hi"}}},
{"data":{"name":"boxC"},"mark":{"type":"bar","size":41,"fill":"white","stroke":"#999","strokeWidth":1.2},"encoding":{"x":{"field":"c","type":"nominal","sort":null},"y":{"field":"q1","type":"quantitative"},"y2":{"field":"q3"}}},
{"data":{"name":"boxC"},"mark":{"type":"tick","size":41,"thickness":2.5,"color":"#555","opacity":1},"encoding":{"x":{"field":"c","type":"nominal","sort":null},"y":{"field":"med","type":"quantitative"}}},
{"data":{"name":"boxC"},"mark":{"type":"tick","size":16,"thickness":1,"color":"#888","opacity":1},"encoding":{"x":{"field":"c","type":"nominal","sort":null},"y":{"field":"hi","type":"quantitative"}}},
{"data":{"name":"boxC"},"mark":{"type":"tick","size":16,"thickness":1,"color":"#888","opacity":1},"encoding":{"x":{"field":"c","type":"nominal","sort":null},"y":{"field":"lo","type":"quantitative"}}},
{"data":{"values":[{}]},"mark":{"type":"rule","color":"#888","strokeWidth":1.5},"encoding":{"x":{"value":-13},"y":{"datum":5.35,"type":"quantitative"},"y2":{"datum":-1.48}}},
{"data":{"values":[{"t":"XUT lncRNAs"}]},"mark":{"type":"text","fontWeight":"bold","fontSize":11,"color":"#222"},"encoding":{"text":{"field":"t"},"x":{"value":45},"y":{"datum":5.93,"type":"quantitative"}}},
{"data":{"values":[{"t":"C"}]},"mark":{"type":"text","fontWeight":"bold","fontSize":14,"color":"#111","align":"left"},"encoding":{"text":{"field":"t"},"x":{"value":-48.4},"y":{"datum":6.13,"type":"quantitative"}}}
]}
],"spacing":0,"bounds":"flush"},
{"width":1,"height":9.4,"data":{"values":[{}]},"mark":{"type":"point","opacity":0},"encoding":{}},
{"resolve":{"scale":{"color":"independent","size":"independent","strokeWidth":"independent"}},"hconcat":[
{"width":49,"height":10,"data":{"values":[{}]},"mark":{"type":"point","opacity":0},"encoding":{}},
{"width":161.5,"height":191.4,"layer":[
{"data":{"values":[{"c":"mRNAs","s":"WT","v":0.783},{"c":"mRNAs","s":"dcp2-7","v":0.78},{"c":"SUTs","s":"WT","v":0.452},{"c":"SUTs","s":"dcp2-7","v":0.5},{"c":"Random","s":"WT","v":0.057},{"c":"Random","s":"dcp2-7","v":0.065}]},
"mark":{"type":"bar","stroke":"#666","strokeWidth":0.8},
"encoding":{
"x":{"field":"c","type":"nominal","sort":null,"title":null,"scale":{"paddingInner":0.424,"paddingOuter":0.212},"axis":{"labelAngle":0,"labelFontSize":10.5,"labelColor":"#555","tickBand":"extent","domainColor":"#666","tickColor":"#666","tickSize":4,"labelPadding":5}},
"xOffset":{"field":"s","type":"nominal","scale":{"domain":["WT","dcp2-7"],"paddingInner":0,"paddingOuter":0}},
"y":{"field":"v","type":"quantitative","scale":{"domain":[0,0.9],"nice":false},"axis":{"values":[0,0.1,0.2,0.3,0.4,0.5,0.6,0.7,0.8,0.9],"tickCount":10,"labelExpr":"replace(format(datum.value,'.1f'),'.',',')","title":["Proportion of transcripts with ≥1","CAGE-Seq peak"],"titleFontSize":11,"titleFontWeight":"bold","titleColor":"#222","titleX":-42,"titleY":104,"labelFontSize":10.5,"labelColor":"#444","domainColor":"#666","tickColor":"#666","tickSize":4,"labelPadding":3}},
"color":{"field":"s","type":"nominal","scale":{"domain":["WT","dcp2-7"],"range":["#0A0A0A","#DCDEDE"]},"legend":{"orient":"none","legendX":112,"legendY":5,"title":null,"strokeColor":"#444","padding":6,"rowPadding":6,"symbolType":"square","symbolSize":36,"symbolStrokeColor":"#666","symbolStrokeWidth":0.8,"labelFontSize":10.5,"labelColor":"#333","labelFontStyle":"italic"}}
}},
{"data":{"values":[{"t":"D"}]},"mark":{"type":"text","fontWeight":"bold","fontSize":14,"color":"#111","align":"left"},"encoding":{"text":{"field":"t"},"x":{"value":-96},"y":{"datum":0.914,"type":"quantitative"}}}
]},
{"width":154.1,"height":10,"data":{"values":[{}]},"mark":{"type":"point","opacity":0},"encoding":{}},
{"width":161.6,"height":191.4,"layer":[
{"data":{"values":[{"c":"NUT","v":40},{"c":"CUT","v":48},{"c":"CUT-NUT","v":14},{"c":"NUT-SUT","v":22},{"c":"SUT","v":70},{"c":"*XUT-CUT-NUT","v":26},{"c":"*XUT-CUT","v":38},{"c":"*XUT-NUT","v":84},{"c":"*XUT-NUT-SUT","v":113},{"c":"*XUT-SUT","v":229},{"c":"*XUT","v":348},{"c":"Novel","v":800}]},
"mark":{"type":"bar","size":7.5,"color":"#F03A20","stroke":"#8A2A18","strokeWidth":0.7},
"encoding":{
"y":{"field":"c","type":"nominal","sort":null,"title":null,"axis":{"labelFontSize":11,"labelColor":"#444","tickBand":"extent","domainColor":"#777","tickColor":"#777","tickSize":3,"labelPadding":6}},
"x":{"field":"v","type":"quantitative","scale":{"domain":[0,800],"nice":false},"axis":{"values":[0,200,400,600,800],"domain":false,"ticks":false,"labelFontSize":11,"labelColor":"#444","labelPadding":6,"title":"Number of XUTs (total = 1798)","titleFontSize":11,"titleFontWeight":"bold","titleColor":"#222","titleBaseline":"middle","titleY":29}}
}},
{"data":{"values":[{"t":"E","x":-389}]},"mark":{"type":"text","fontWeight":"bold","fontSize":14,"color":"#111","align":"left"},"encoding":{"text":{"field":"t"},"x":{"field":"x","type":"quantitative"},"y":{"value":-3}}}
]}
],"spacing":0,"bounds":"flush"},
{"resolve":{"scale":{"color":"independent","size":"independent","strokeWidth":"independent"}},"vconcat":[
{"width":539.8,"height":27.3,"layer":[
{"data":{"name":"genesTop"},"mark":{"type":"rule"},"encoding":{"x":{"field":"s","type":"quantitative","scale":{"domain":[86052,97955],"nice":false},"axis":null},"x2":{"field":"e"},"y":{"field":"lane","type":"nominal","scale":{"type":"point","padding":0,"domain":["1","2"],"range":[6,18]},"axis":null},"color":{"field":"k","type":"nominal","scale":{"domain":["NUT","XUT","gene","SUT"],"range":["#46462E","#F03A20","#1E70BF","#8A8A8A"]},"legend":null},"strokeWidth":{"field":"k","type":"nominal","scale":{"domain":["NUT","XUT","gene","SUT"],"range":[3,3,7,3]},"legend":null}}},
{"data":{"name":"genesTop"},"mark":{"type":"point","filled":true,"shape":"triangle-right","opacity":1},"encoding":{"x":{"field":"e","type":"quantitative","axis":null},"y":{"field":"lane","type":"nominal","axis":null},"color":{"field":"k","type":"nominal","legend":null},"size":{"field":"k","type":"nominal","scale":{"domain":["NUT","XUT","gene","SUT"],"range":[50,60,150,60]},"legend":null}}},
{"data":{"name":"labelsTop"},"transform":[{"filter":"datum.al=='s'"}],"mark":{"type":"text","align":"left","fontSize":11,"fontWeight":"bold","fontStyle":"italic"},"encoding":{"text":{"field":"n"},"x":{"field":"p","type":"quantitative","axis":null},"y":{"field":"lane","type":"nominal","axis":null},"color":{"field":"k","type":"nominal","legend":null}}},
{"data":{"name":"labelsTop"},"transform":[{"filter":"datum.al=='c'"}],"mark":{"type":"text","align":"center","fontSize":11,"fontWeight":"bold","fontStyle":"italic"},"encoding":{"text":{"field":"n"},"x":{"field":"p","type":"quantitative","axis":null},"y":{"field":"lane","type":"nominal","axis":null},"color":{"field":"k","type":"nominal","legend":null}}},
{"data":{"values":[{"p":97860,"lane":"2","t":"//"}]},"mark":{"type":"text","fontSize":13,"fontWeight":"bold","color":"#222"},"encoding":{"text":{"field":"t"},"x":{"field":"p","type":"quantitative","axis":null},"y":{"field":"lane","type":"nominal","axis":null}}},
{"data":{"values":[{"t":"F","p":85015}]},"mark":{"type":"text","fontWeight":"bold","fontSize":14,"color":"#111","align":"left"},"encoding":{"text":{"field":"t"},"x":{"field":"p","type":"quantitative","axis":null},"y":{"value":-2.3}}}
]},
{"width":539.8,"height":93.4,"layer":[
{"data":{"name":"bg"},"mark":{"type":"rect","fill":"#FDF7C3","stroke":"#AAA"},"encoding":{"x":{"field":"a","type":"quantitative","scale":{"domain":[86052,97955],"nice":false},"axis":{"values":[87000,88000,89000,90000,91000,92000,93000,94000,95000,96000,97000],"tickCount":12,"labelExpr":"datum.value%2000==1000?format(datum.value,'d'):''","title":null,"labelFontSize":9.5,"labelColor":"#444","domain":false,"tickColor":"#888","tickSize":3,"labelPadding":2}},"x2":{"field":"b"}}},
{"data":{"name":"h1"},"mark":{"type":"rect"},"encoding":{"x":{"field":"a","type":"quantitative"},"x2":{"field":"b"},"y":{"field":"t","type":"nominal","scale":{"domain":["a+","aΔ","b+","bΔ","c+","cΔ","d+","dΔ","e+","edcp2"],"paddingInner":0,"paddingOuter":0},"axis":{"offset":-39,"title":null,"labelExpr":"slice(datum.label,1)","labelFontSize":9,"labelFontStyle":"italic","labelColor":"#555","domain":false,"tickColor":"#888","tickSize":4,"labelPadding":3}},"color":{"field":"v","type":"quantitative","scale":{"domain":[0,0.1,0.2,0.3,0.4,0.5,0.6,0.7,0.8,0.9,1],"range":["#FDF7C3","#EDF0B0","#CFE6A0","#A2D88A","#5FBF68","#3BAA78","#2C968C","#2A8093","#1C5E96","#13407F","#0B2468"]},"legend":null}}},
{"data":{"name":"strains"},"mark":{"type":"text","align":"right","fontWeight":"bold","fontSize":11.5,"color":"#222"},"encoding":{"text":{"field":"s"},"x":{"datum":86118,"type":"quantitative"},"y":{"field":"t","type":"nominal","bandPosition":1}}},
{"data":{"name":"seps"},"mark":{"type":"rule","color":"#777","strokeWidth":1.5},"encoding":{"x":{"datum":85192,"type":"quantitative"},"x2":{"datum":86206},"y":{"field":"t","type":"nominal","bandPosition":1}}},
{"data":{"values":[{"t":"c+","k":"+ strand"}]},"mark":{"type":"text","angle":90,"fontSize":9,"color":"#444"},"encoding":{"text":{"field":"k"},"x":{"datum":98195,"type":"quantitative"},"y":{"field":"t","type":"nominal","bandPosition":1}}},
{"data":{"values":[{"t":"edcp2","k":"Chr.15"}]},"mark":{"type":"text","fontSize":9.5,"color":"#444","dy":14},"encoding":{"text":{"field":"k"},"x":{"datum":98158,"type":"quantitative"},"y":{"field":"t","type":"nominal"}}}
]},
{"width":539.8,"height":19.6,"data":{"values":[{}]},"mark":{"type":"point","opacity":0},"encoding":{}},
{"width":539.8,"height":96,"layer":[
{"data":{"name":"bg"},"mark":{"type":"rect","fill":"#FDF7C3","stroke":"#AAA"},"encoding":{"x":{"field":"a","type":"quantitative","scale":{"domain":[86052,97955],"nice":false},"axis":{"values":[87000,88000,89000,90000,91000,92000,93000,94000,95000,96000,97000],"tickCount":12,"labels":false,"title":null,"domain":false,"tickColor":"#888","tickSize":3}},"x2":{"field":"b"}}},
{"data":{"name":"h2"},"mark":{"type":"rect"},"encoding":{"x":{"field":"a","type":"quantitative"},"x2":{"field":"b"},"y":{"field":"t","type":"nominal","scale":{"domain":["a+","aΔ","b+","bΔ","c+","cΔ","d+","dΔ","e+","edcp2"],"paddingInner":0,"paddingOuter":0},"axis":{"offset":-39,"title":null,"labelExpr":"slice(datum.label,1)","labelFontSize":9,"labelFontStyle":"italic","labelColor":"#555","domain":false,"tickColor":"#888","tickSize":4,"labelPadding":3}},"color":{"field":"v","type":"quantitative","scale":{"domain":[0,0.1,0.2,0.3,0.4,0.5,0.6,0.7,0.8,0.9,1],"range":["#FDF7C3","#EDF0B0","#CFE6A0","#A2D88A","#5FBF68","#3BAA78","#2C968C","#2A8093","#1C5E96","#13407F","#0B2468"]},"legend":null}}},
{"data":{"name":"strains"},"mark":{"type":"text","align":"right","fontWeight":"bold","fontSize":11.5,"color":"#222"},"encoding":{"text":{"field":"s"},"x":{"datum":86118,"type":"quantitative"},"y":{"field":"t","type":"nominal","bandPosition":1}}},
{"data":{"name":"seps"},"mark":{"type":"rule","color":"#777","strokeWidth":1.5},"encoding":{"x":{"datum":85192,"type":"quantitative"},"x2":{"datum":86206},"y":{"field":"t","type":"nominal","bandPosition":1}}},
{"data":{"values":[{"t":"c+","k":"- strand"}]},"mark":{"type":"text","angle":90,"fontSize":9,"color":"#444"},"encoding":{"text":{"field":"k"},"x":{"datum":98195,"type":"quantitative"},"y":{"field":"t","type":"nominal","bandPosition":1}}}
]},
{"width":539.8,"height":33.4,"layer":[
{"data":{"name":"genesBot"},"mark":{"type":"rule"},"encoding":{"x":{"field":"s","type":"quantitative","scale":{"domain":[86052,97955],"nice":false},"axis":null},"x2":{"field":"e"},"y":{"datum":"arrow","type":"nominal","scale":{"type":"point","padding":0,"domain":["arrow","label"],"range":[9.7,20.7]},"axis":null},"color":{"field":"k","type":"nominal","scale":{"domain":["NUT","gene"],"range":["#46462E","#1E70BF"]},"legend":null},"strokeWidth":{"field":"k","type":"nominal","scale":{"domain":["NUT","gene"],"range":[3,7]},"legend":null}}},
{"data":{"name":"genesBot"},"mark":{"type":"point","filled":true,"shape":"triangle-left","opacity":1},"encoding":{"x":{"field":"s","type":"quantitative","axis":null},"y":{"datum":"arrow","type":"nominal","axis":null},"color":{"field":"k","type":"nominal","legend":null},"size":{"field":"k","type":"nominal","scale":{"domain":["NUT","gene"],"range":[50,150]},"legend":null}}},
{"data":{"name":"labelsBot"},"mark":{"type":"text","fontSize":11,"fontWeight":"bold","fontStyle":"italic"},"encoding":{"text":{"field":"n"},"x":{"field":"p","type":"quantitative","axis":null},"y":{"datum":"label","type":"nominal","axis":null},"color":{"field":"k","type":"nominal","legend":null}}}
]},
{"width":539.8,"height":62,"layer":[
{"data":{"name":"cage"},"mark":{"type":"bar","size":1.8},"encoding":{"x":{"field":"x","type":"quantitative","scale":{"domain":[86052,97955],"nice":false},"axis":{"values":[87000,88000,89000,90000,91000,92000,93000,94000,95000,96000,97000],"tickCount":12,"labels":false,"title":null,"domain":false,"tickColor":"#888","tickSize":3}},"y":{"field":"v","type":"quantitative","scale":{"domain":[-13.4,10],"nice":false},"axis":{"offset":-39,"values":[-10,-5,0,5,10],"tickCount":5,"labelExpr":"format(abs(datum.value),'d')","title":"Densities (log₂)","titleFontSize":9.5,"titleFontWeight":"normal","titleColor":"#666","titleX":-21,"titleY":31,"labelFontSize":10,"labelColor":"#555","domainColor":"#999","tickSize":0,"labelPadding":6}},"color":{"condition":{"test":"datum.v>0","value":"#14236B"},"value":"#D9297F"}}},
{"data":{"values":[{"y":0},{"y":10},{"y":-13.4}]},"mark":{"type":"rule","color":"#AAA","strokeWidth":1.2},"encoding":{"x":{"datum":86912,"type":"quantitative"},"x2":{"datum":97955},"y":{"field":"y","type":"quantitative"}}},
{"data":{"name":"chevUp"},"mark":{"type":"text","text":">","fontSize":11,"fontWeight":"bold","color":"#F04A2A"},"encoding":{"x":{"field":"x","type":"quantitative"},"y":{"field":"y","type":"quantitative"}}},
{"data":{"name":"chevDown"},"mark":{"type":"text","text":"<","fontSize":11,"fontWeight":"bold","color":"#F04A2A"},"encoding":{"x":{"field":"x","type":"quantitative"},"y":{"field":"y","type":"quantitative"}}},
{"data":{"values":[{"x":85523,"y":0,"k":"CAGE"}]},"mark":{"type":"text","angle":-90,"fontSize":12,"fontWeight":"bold","color":"#222"},"encoding":{"text":{"field":"k"},"x":{"field":"x","type":"quantitative"},"y":{"field":"y","type":"quantitative"}}},
{"data":{"values":[{"x":85853,"y":0,"k":"dcp2-7"}]},"mark":{"type":"text","angle":-90,"fontSize":12,"fontWeight":"bold","fontStyle":"italic","color":"#222"},"encoding":{"text":{"field":"k"},"x":{"field":"x","type":"quantitative"},"y":{"field":"y","type":"quantitative"}}},
{"data":{"values":[{"x":98091,"y":5,"k":"+"},{"x":98091,"y":-6.8,"k":"-"},{"x":98345,"y":0,"k":"strand"}]},"mark":{"type":"text","angle":90,"fontSize":9,"color":"#444"},"encoding":{"text":{"field":"k"},"x":{"field":"x","type":"quantitative"},"y":{"field":"y","type":"quantitative"}}}
]}
],"spacing":0,"bounds":"flush"}
],
"spacing":4.3,"align":"none"
}
